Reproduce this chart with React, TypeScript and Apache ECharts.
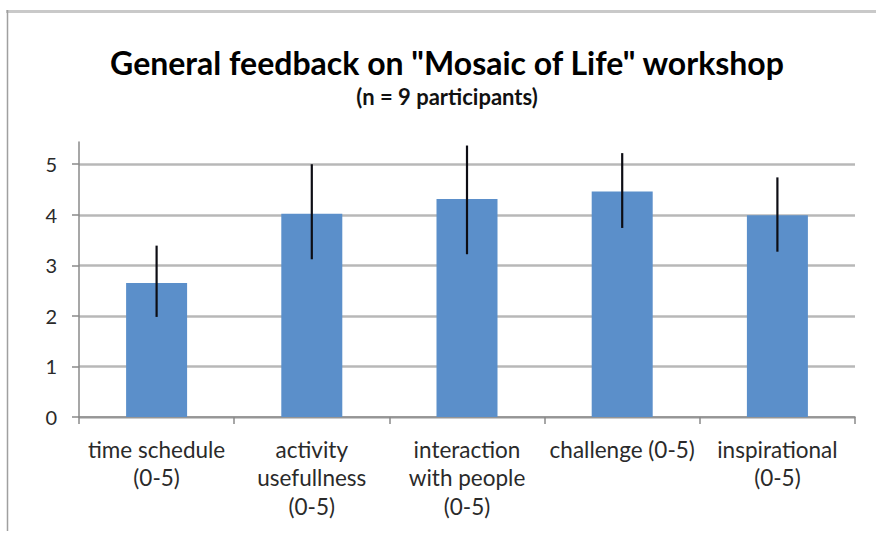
import React, { useEffect, useRef } from "react";
import * as echarts from "echarts";

const titleText = 'General feedback on "Mosaic of Life" workshop';
const subtitleText = "(n = 9 participants)";
const categories = [
  "time schedule\n(0-5)",
  "activity\nusefullness\n(0-5)",
  "interaction\nwith people\n(0-5)",
  "challenge (0-5)",
  "inspirational\n(0-5)",
];
const means = [2.65, 4.02, 4.31, 4.46, 3.99];
const errLow = [1.98, 3.12, 3.22, 3.74, 3.27];
const errHigh = [3.39, 5.0, 5.37, 5.22, 4.74];
const yTicks = [0, 1, 2, 3, 4, 5];

const FONT = "Lato, 'Open Sans', sans-serif";

export default function App() {
  const ref = useRef<HTMLDivElement>(null);
  useEffect(() => {
    if (!ref.current) return;
    const chart = echarts.init(ref.current, null, { renderer: "svg" });
    const errData = categories.map((_, i) => [i, errLow[i], errHigh[i]]);
    chart.setOption({
      animation: false,
      backgroundColor: "#ffffff",
      grid: { left: 79, right: 21, top: 142, bottom: 116 },
      graphic: [
        {
          type: "line",
          shape: { x1: 6, y1: 11.5, x2: 876, y2: 11.5 },
          style: { stroke: "#c9c9c9", lineWidth: 3 },
        },
        {
          type: "line",
          shape: { x1: 7.5, y1: 10, x2: 7.5, y2: 531 },
          style: { stroke: "#a0a0a0", lineWidth: 1.5 },
        },
        {
          type: "text",
          x: 447,
          y: 62,
          style: {
            text: titleText,
            fontFamily: FONT,
            fontWeight: "bold",
            fontSize: 32,
            fill: "#000",
            align: "center",
            verticalAlign: "middle",
          },
        },
        {
          type: "text",
          x: 447,
          y: 96,
          style: {
            text: subtitleText,
            fontFamily: FONT,
            fontWeight: "bold",
            fontSize: 22,
            fill: "#111",
            align: "center",
            verticalAlign: "middle",
          },
        },
      ],
      xAxis: {
        type: "category",
        data: categories,
        axisLine: { lineStyle: { color: "#8a8a8a", width: 1.5 } },
        axisTick: { show: true, length: 7, lineStyle: { color: "#8a8a8a", width: 1.5 } },
        axisLabel: {
          interval: 0,
          fontFamily: FONT,
          fontSize: 22.5,
          lineHeight: 28.5,
          color: "#2a2a2a",
          margin: 18,
        },
      },
      yAxis: {
        type: "value",
        min: 0,
        max: 5.44,
        interval: 1,
        axisLine: { show: true, lineStyle: { color: "#8a8a8a", width: 1.5 } },
        axisTick: {
          show: true,
          length: 7,
          customValues: yTicks,
          lineStyle: { color: "#8a8a8a", width: 1.5 },
        },
        axisLabel: {
          customValues: yTicks,
          fontFamily: FONT,
          fontSize: 20,
          color: "#2a2a2a",
          margin: 22,
        },
        splitLine: {
          show: true,
          lineStyle: { color: "#b8b8b8", width: 2.5 },
        },
      },
      series: [
        {
          type: "bar",
          data: means,
          barWidth: 61,
          itemStyle: { color: "#5b8fca" },
        },
        {
          type: "custom",
          data: errData,
          clip: false,
          z: 10,
          renderItem: (params: any, api: any) => {
            const x = api.value(0);
            const lo = api.coord([x, api.value(1)]);
            const hi = api.coord([x, api.value(2)]);
            return {
              type: "line",
              shape: { x1: lo[0], y1: lo[1], x2: hi[0], y2: hi[1] },
              style: { stroke: "#0d0d14", lineWidth: 2.2 },
            };
          },
        },
      ],
    });
    return () => chart.dispose();
  }, []);
  return (
    <div
      ref={ref}
      style={{ position: "fixed", left: 0, top: 0, width: 876, height: 533 }}
    />
  );
}
